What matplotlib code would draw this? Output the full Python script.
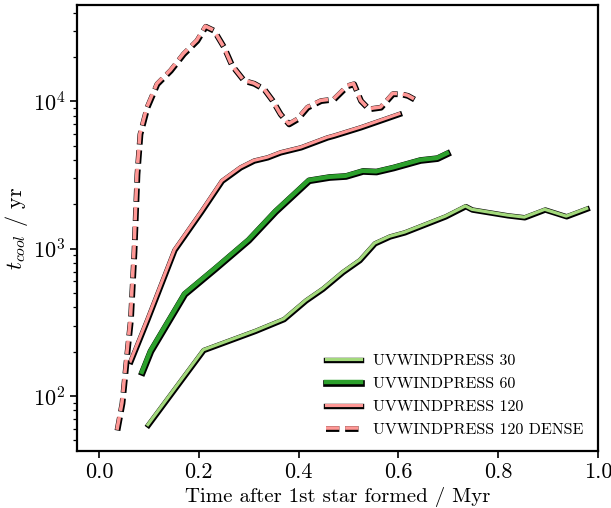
import numpy as np
import matplotlib
matplotlib.use("Agg")
from matplotlib import pyplot as plt
import matplotlib.patheffects as pe

plt.rcParams['font.family'] = 'serif'
plt.rcParams['font.serif'] = ['cmr10', 'DejaVu Serif']
plt.rcParams['mathtext.fontset'] = 'cm'
plt.rcParams['axes.formatter.use_mathtext'] = True
plt.rcParams['axes.unicode_minus'] = False

# Time after first star formed (Myr) and cooling time (yr)
t_30 = [0.098, 0.209, 0.313, 0.370, 0.414, 0.448, 0.488, 0.522, 0.552, 0.582,
        0.612, 0.694, 0.734, 0.747, 0.818, 0.852, 0.893, 0.936, 0.977]
tc_30 = [64, 206, 278, 334, 447, 537, 697, 840, 1091, 1214,
         1295, 1664, 1950, 1850, 1690, 1638, 1850, 1664, 1877]

t_60 = [0.086, 0.103, 0.171, 0.232, 0.299, 0.353, 0.420, 0.461, 0.494, 0.528,
        0.555, 0.589, 0.643, 0.677, 0.697]
tc_60 = [146, 203, 495, 736, 1150, 1800, 2920, 3075, 3125, 3380,
         3350, 3565, 4010, 4130, 4450]

t_120 = [0.063, 0.097, 0.151, 0.205, 0.246, 0.283, 0.310, 0.337, 0.363, 0.404,
         0.457, 0.470, 0.524, 0.601]
tc_120 = [173, 334, 985, 1800, 2900, 3575, 3975, 4180, 4520, 4890,
          5710, 5870, 6690, 8240]

t_dense = [0.036, 0.046, 0.056, 0.063, 0.070, 0.076, 0.082, 0.096, 0.116, 0.143,
           0.169, 0.196, 0.213, 0.230, 0.250, 0.266, 0.290, 0.310, 0.330, 0.347,
           0.363, 0.380, 0.397, 0.417, 0.444, 0.470, 0.497, 0.510, 0.524, 0.540,
           0.564, 0.588, 0.604, 0.618, 0.631]
tc_dense = [59, 90, 198, 334, 957, 3220, 6030, 9150, 13200, 16300,
            21100, 26000, 32400, 30400, 23400, 17600, 13900, 13300, 12200, 10200,
            8240, 7050, 7620, 9150, 10150, 10400, 12800, 13200, 10150, 8920,
            9150, 11300, 11300, 11000, 10400]

labels = ["UVWINDPRESS 30", "UVWINDPRESS 60", "UVWINDPRESS 120",
          "UVWINDPRESS 120 DENSE"]


def outline(lw):
    return [pe.Stroke(linewidth=lw + 1.6, foreground='k', offset=(0.4, -0.5)),
            pe.Normal()]


fig = plt.figure(figsize=(6.11, 5.08), dpi=100)
ax = fig.add_axes([0.126, 0.112, 0.853, 0.878])

ax.plot(t_30, tc_30, color='#a3d97c', lw=2.3, label=labels[0], path_effects=outline(2.3))
ax.plot(t_60, tc_60, color='#2ca02c', lw=3.2, label=labels[1], path_effects=outline(3.2))
ax.plot(t_120, tc_120, color='#ff9896', lw=2.3, label=labels[2], path_effects=outline(2.3))
ax.plot(t_dense, tc_dense, color='#ff9896', lw=2.6, ls='--', label=labels[3],
        path_effects=outline(2.6))

ax.set_yscale('log')
ax.set_xlim(-0.044, 1.0)
ax.set_ylim(42.3, 45000)
ax.set_xticks([0.0, 0.2, 0.4, 0.6, 0.8, 1.0])
ax.set_xticklabels(["0.0", "0.2", "0.4", "0.6", "0.8", "1.0"])

for s in ax.spines.values():
    s.set_linewidth(1.6)
ax.tick_params(which='major', labelsize=16, width=1.2, length=5)
ax.tick_params(which='minor', width=0.9, length=3)

ax.set_xlabel("Time after 1st star formed / Myr", fontsize=15, labelpad=3)
ax.set_ylabel(r"$t_{cool}$ / yr", fontsize=16, labelpad=2)

ax.legend(loc='lower right', frameon=False, fontsize=11.5, handlelength=2.2,
          labelspacing=0.55, borderaxespad=0.5, handletextpad=0.8)

fig.savefig("out.png", dpi=100)
